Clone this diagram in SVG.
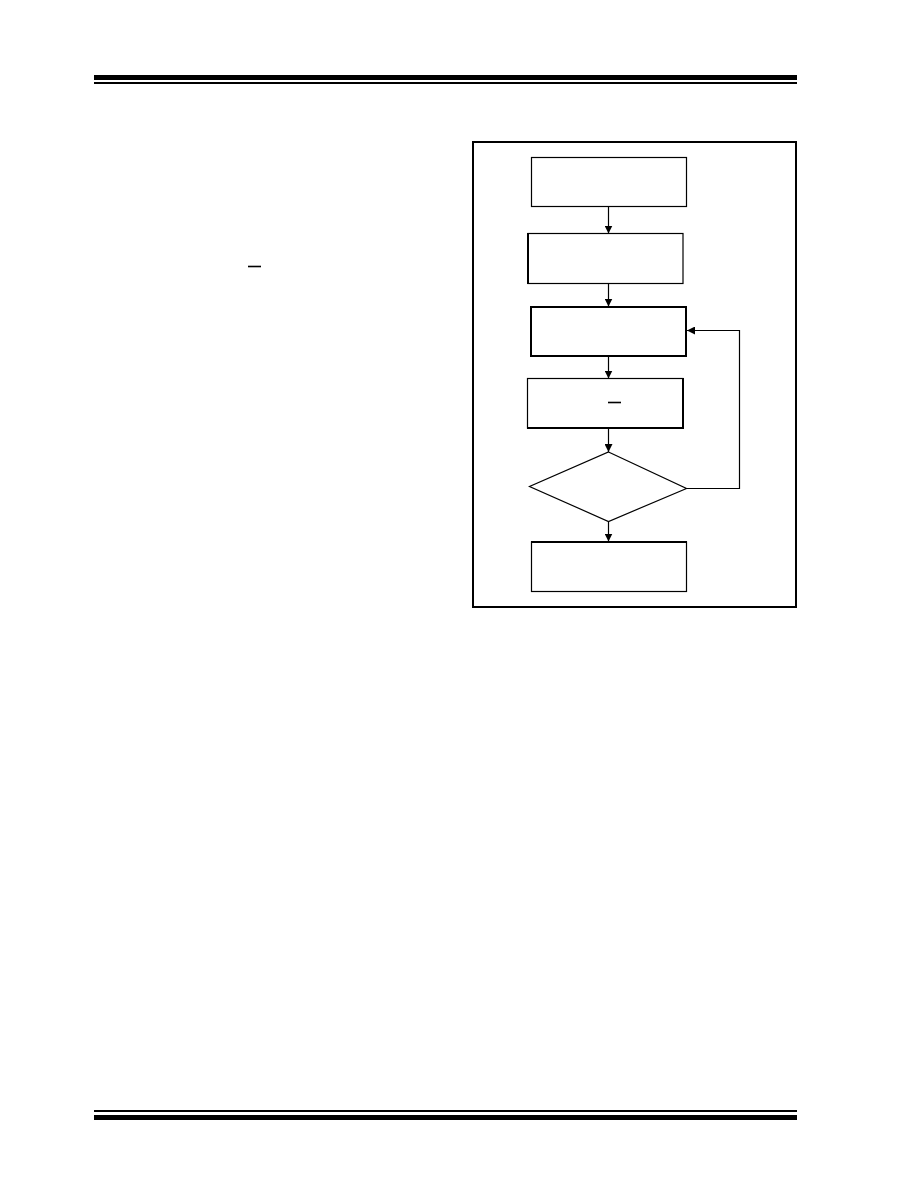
<svg xmlns="http://www.w3.org/2000/svg" width="918" height="1188" viewBox="0 0 918 1188">
<defs>
<style>
.node{fill:#fff;stroke:#000;stroke-width:1.2}
.thick{stroke-width:2}
.conn{fill:none;stroke:#000;stroke-width:1.2}
.bar{fill:#000}
.ovl{stroke:#000;stroke-width:1.6}
</style>
<marker id="arr" viewBox="0 0 10 10" refX="10" refY="5" markerWidth="8" markerHeight="8" markerUnits="userSpaceOnUse" orient="auto">
<path d="M0,0 L10,5 L0,10 z" fill="#000"/>
</marker>
</defs>
<rect width="918" height="1188" fill="#fff"/>
<g id="header">
<rect class="bar" x="94" y="75" width="703" height="5"/>
<rect class="bar" x="94" y="82" width="703" height="2"/>
</g>
<g id="footer">
<rect class="bar" x="94" y="1110" width="703" height="2"/>
<rect class="bar" x="94" y="1115" width="703" height="5"/>
</g>
<line class="ovl" x1="248" y1="266.5" x2="261" y2="266.5"/>
<rect id="frame" x="473" y="142" width="323" height="465" fill="none" stroke="#000" stroke-width="2"/>
<g id="connectors">
<line class="conn" x1="608.5" y1="206.5" x2="608.5" y2="233.5" marker-end="url(#arr)"/>
<line class="conn" x1="608.5" y1="283.5" x2="608.5" y2="306.5" marker-end="url(#arr)"/>
<line class="conn" x1="608.5" y1="356.5" x2="608.5" y2="378.5" marker-end="url(#arr)"/>
<line class="conn" x1="608.5" y1="428.5" x2="608.5" y2="452" marker-end="url(#arr)"/>
<line class="conn" x1="608.5" y1="521.5" x2="608.5" y2="541.5" marker-end="url(#arr)"/>
<polyline class="conn" points="686.5,488.5 739.5,488.5 739.5,330.5 687,330.5" marker-end="url(#arr)"/>
</g>
<g id="n1"><rect class="node" x="531.5" y="157.5" width="155" height="49"/></g>
<g id="n2"><rect class="node" x="528" y="233.5" width="155" height="50"/><line x1="528" y1="233" x2="528" y2="284" stroke="#000" stroke-width="2"/></g>
<g id="n3"><rect class="node thick" x="531" y="307" width="155" height="49"/></g>
<g id="n4"><rect class="node" x="527.5" y="378.5" width="155.5" height="49.5"/><polyline points="683,378 683,428 527,428" fill="none" stroke="#000" stroke-width="2"/><line class="ovl" x1="608" y1="402.5" x2="621" y2="402.5" stroke-width="2"/></g>
<g id="n5"><polygon class="node" points="608.5,452 686.5,488.5 608.5,521.5 529.5,486.5"/></g>
<g id="n6"><rect class="node" x="531.5" y="542" width="155" height="49.5"/><line x1="531" y1="542" x2="687" y2="542" stroke="#000" stroke-width="2"/></g>
</svg>
